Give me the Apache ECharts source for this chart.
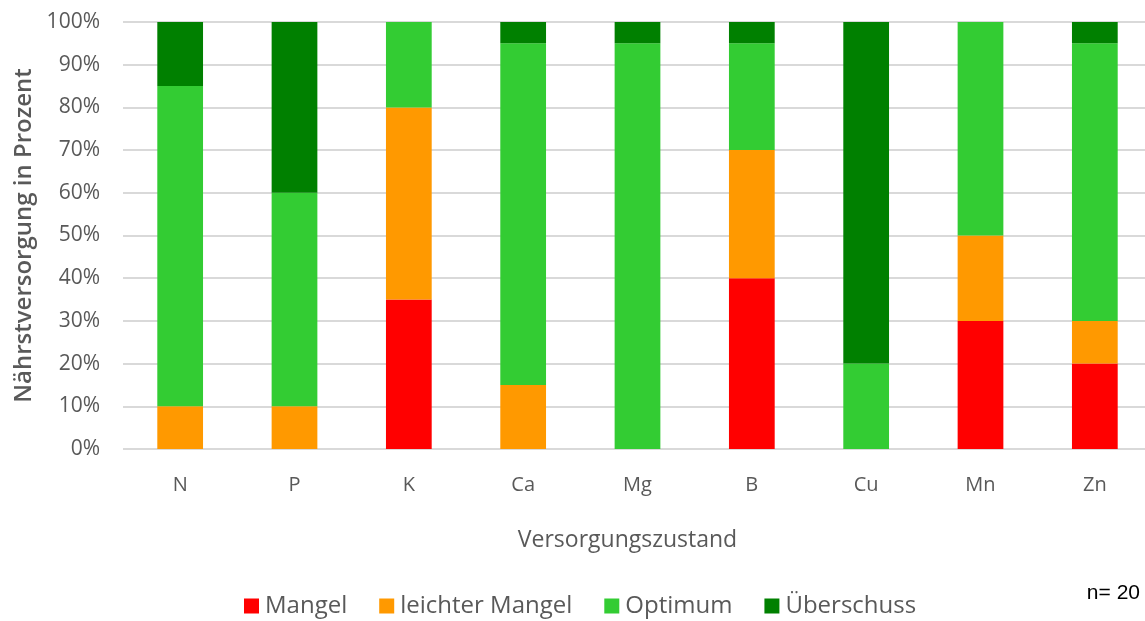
<!DOCTYPE html>
<html>
<head>
<meta charset="utf-8">
<script src="https://cdn.jsdelivr.net/npm/echarts@6/dist/echarts.min.js"></script>
<style>
  html, body { margin: 0; padding: 0; background: #fff; }
  #chart { width: 1145px; height: 621px; }
</style>
</head>
<body>
<div id="chart"></div>
<script>
// Nutrients on the category axis
const categories = ['N', 'P', 'K', 'Ca', 'Mg', 'B', 'Cu', 'Mn', 'Zn'];

// Share of samples per supply level (percent)
const mangel         = [0, 0, 35, 0, 0, 40, 0, 30, 20];
const leichterMangel = [10, 10, 45, 15, 0, 30, 0, 20, 10];
const optimum        = [75, 50, 20, 80, 95, 25, 20, 50, 65];
const ueberschuss    = [15, 40, 0, 5, 5, 5, 80, 0, 5];

const seriesNames = ['Mangel', 'leichter Mangel', 'Optimum', 'Überschuss'];
const seriesValues = [mangel, leichterMangel, optimum, ueberschuss];
const seriesColors = ['#FF0000', '#FF9900', '#33CC33', '#008000'];

const font = '"Open Sans", Lato, sans-serif';
const textGray = '#595959';

const chart = echarts.init(document.getElementById('chart'), null, { renderer: 'canvas' });

chart.setOption({
  animation: false,
  backgroundColor: '#fff',
  // plot area runs slightly past the right edge of the canvas
  grid: { left: 123, width: 1029, top: 22, bottom: 172, containLabel: false, outerBoundsMode: 'none' },
  legend: {
    data: seriesNames,
    bottom: -2,
    left: 239,
    itemWidth: 15,
    itemHeight: 15,
    itemGap: 32,
    icon: 'rect',
    textStyle: { fontFamily: font, fontSize: 24, color: textGray, padding: [0, 0, 0, 1] }
  },
  xAxis: {
    type: 'category',
    data: categories,
    name: 'Versorgungszustand',
    nameLocation: 'middle',
    nameGap: 80,
    nameTextStyle: { fontFamily: font, fontSize: 23, color: textGray, padding: [0, 20, 0, 0] },
    axisLine: { show: false },
    axisTick: { show: false },
    axisLabel: { fontFamily: font, fontSize: 20, color: textGray, margin: 26 }
  },
  yAxis: {
    type: 'value',
    min: 0,
    max: 100,
    interval: 10,
    name: 'Nährstversorgung in Prozent',
    nameLocation: 'middle',
    nameGap: 86,
    nameTextStyle: { fontFamily: font, fontSize: 24, fontWeight: 600, color: textGray },
    axisLine: { show: false },
    axisTick: { show: false },
    axisLabel: { fontFamily: font, fontSize: 21, color: textGray, margin: 23, formatter: '{value}%' },
    splitLine: { lineStyle: { color: '#D9D9D9', width: 2 } }
  },
  series: seriesNames.map((name, i) => ({
    name,
    type: 'bar',
    stack: 'total',
    barWidth: '40%',
    itemStyle: { color: seriesColors[i] },
    data: seriesValues[i]
  })),
  graphic: [{
    type: 'text',
    right: 5,
    top: 583,
    style: { text: 'n= 20', font: '21px "Liberation Sans", Arial, sans-serif', fill: '#000' }
  }]
});
</script>
</body>
</html>
